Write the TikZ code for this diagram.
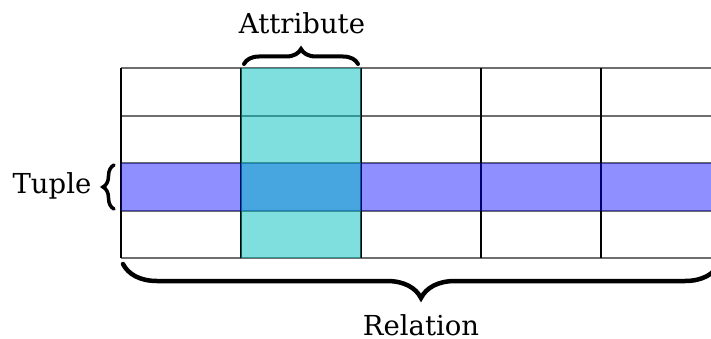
\documentclass[tikz,border=0pt]{standalone}
\usepackage{fontspec}
\setmainfont{DejaVu Serif}
\usetikzlibrary{decorations.pathreplacing,calc}
\definecolor{AttrCyan} {HTML}{00BFBF}
\definecolor{TupleBlue}{HTML}{0000FF}
\definecolor{GridGray} {HTML}{6E6E6E}
\tikzset{
  hline/.style={draw=GridGray,line width=1.2pt},
  vline/.style={draw=black,line width=1.8pt},
  attrband/.style={fill=AttrCyan,fill opacity=0.5},
  tupleband/.style={fill=TupleBlue,fill opacity=0.44},
  bracket/.style={decorate,decoration={brace,amplitude=#1},
                  line width=4pt,line cap=round},
  lbl/.style={font=\fontsize{27.5}{32}\selectfont,inner sep=0pt},
}

\begin{document}
\begin{tikzpicture}[x=1pt,y=-1pt]

  \useasboundingbox (0,0) rectangle (711,339);
  \clip (0,0) rectangle (711,339);

  % table grid
  \foreach \y in {68,116,163,211,258}
    \draw[hline] (121,\y) -- (721,\y);
  \foreach \x in {121,241,361,481,601}
    \draw[vline] (\x,68) -- (\x,258);

  \fill[tupleband] (121,163) rectangle (721,211);
  \fill[attrband]  (241,68)  rectangle (361,258);

  % brace end points
  \coordinate (attrL) at (244,64);
  \coordinate (attrR) at (358,64);
  \coordinate (tupB)  at (114,209);
  \coordinate (tupT)  at (114,165);
  \coordinate (relR)  at (719,264);
  \coordinate (relL)  at (123,264);

  \draw[bracket=15] (attrL) -- (attrR);
  \draw[bracket=11,line width=3.5pt] (tupB) -- (tupT);
  \draw[bracket=34,line width=4.5pt] (relR) -- (relL);

  \node[lbl] (attr)  at (302,23)  {Attribute};
  \node[lbl] (tuple) at (52,186)  {Tuple};
  \node[lbl] (rel)   at (421,325) {Relation};

\end{tikzpicture}
\end{document}
